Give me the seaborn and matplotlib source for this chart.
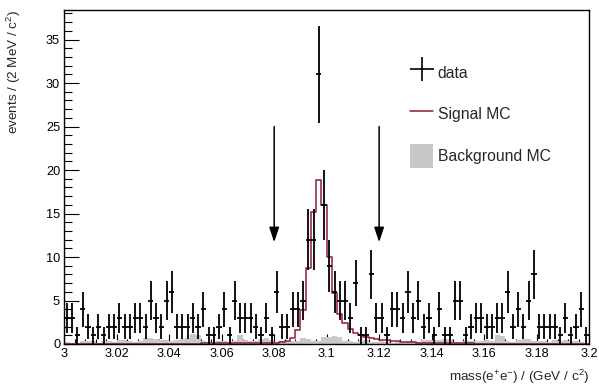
import numpy as np
import pandas as pd
import matplotlib
matplotlib.use("Agg")
import matplotlib.pyplot as plt
import seaborn as sns
from matplotlib.lines import Line2D
from matplotlib.patches import Patch
from matplotlib.ticker import MultipleLocator, FuncFormatter

# ---------------- data (2 MeV bins from 3.0 to 3.2 GeV) ----------------
mass_low = 3.0
mass_high = 3.2
n_bins = 100

data_counts = [3, 3, 1, 4, 2, 1, 2, 1, 2, 2,
               3, 2, 2, 3, 3, 2, 5, 3, 2, 5,
               6, 2, 2, 2, 3, 2, 4, 1, 1, 2,
               4, 1, 5, 3, 3, 3, 2, 1, 3, 1,
               6, 2, 2, 4, 4, 5, 12, 12, 31, 16,
               9, 6, 5, 5, 3, 7, 1, 1, 8, 3,
               3, 1, 4, 4, 3, 6, 3, 5, 2, 3,
               1, 4, 1, 1, 5, 5, 1, 2, 3, 3,
               2, 2, 3, 3, 6, 2, 4, 2, 5, 8,
               2, 2, 2, 2, 1, 3, 1, 2, 4, 1]

signal_mc = [0.02, 0.02, 0.02, 0.02, 0.02, 0.02, 0.02, 0.03, 0.03, 0.03,
             0.03, 0.03, 0.03, 0.03, 0.03, 0.04, 0.04, 0.04, 0.04, 0.04,
             0.04, 0.05, 0.05, 0.05, 0.05, 0.05, 0.06, 0.06, 0.06, 0.07,
             0.07, 0.07, 0.08, 0.08, 0.09, 0.09, 0.10, 0.10, 0.11, 0.12,
             0.15, 0.23, 0.35, 0.65, 1.6, 3.9, 8.7, 15.2, 18.8, 16.0,
             10.0, 5.9, 3.5, 2.4, 1.7, 1.3, 1.05, 0.85, 0.7, 0.6,
             0.5, 0.42, 0.36, 0.31, 0.27, 0.23, 0.2, 0.17, 0.15, 0.13,
             0.12, 0.10, 0.09, 0.08, 0.07, 0.07, 0.06, 0.06, 0.05, 0.05,
             0.05, 0.04, 0.04, 0.04, 0.04, 0.03, 0.03, 0.03, 0.03, 0.03,
             0.03, 0.03, 0.02, 0.02, 0.02, 0.02, 0.02, 0.02, 0.02, 0.02]

background_mc = [0.2, 0.1, 0.15, 0.35, 0.4, 0.3, 0.1, 0.3, 0.35, 0.25,
                 0.45, 0.5, 0.4, 0.2, 0.3, 0.65, 0.7, 0.6, 0.45, 0.5,
                 0.4, 0.5, 0.6, 0.65, 1.2, 1.0, 0.3, 0.2, 0.25, 0.35,
                 0.3, 0.2, 0.4, 1.0, 0.5, 0.3, 0.4, 0.6, 0.65, 0.5,
                 0.2, 0.3, 0.25, 0.4, 0.3, 0.65, 0.6, 0.3, 0.3, 0.85,
                 0.8, 0.9, 0.8, 0.35, 0.3, 0.2, 0.3, 0.45, 0.2, 0.25,
                 0.3, 0.2, 0.15, 0.25, 0.2, 0.3, 0.2, 0.25, 0.45, 0.5,
                 0.5, 0.45, 0.6, 0.55, 0.2, 0.15, 0.35, 0.35, 0.3, 0.4,
                 0.45, 0.4, 1.0, 0.9, 0.3, 0.2, 0.5, 0.55, 0.6, 0.35,
                 0.3, 0.35, 0.2, 0.45, 0.4, 0.45, 0.4, 0.3, 0.2, 0.15]

cut_positions = [3.08, 3.12]
arrow_top = 25.0
arrow_tip = 11.7

legend_labels = ["data", "Signal MC", "Background MC"]
x_title = r"mass(e$^{+}$e$^{-}$) / (GeV / c$^{2}$)"
y_title = r"events / (2 MeV / c$^{2}$)"

# ---------------- figure ----------------
sns.set_style("white")
plt.rcParams["font.family"] = ["Liberation Sans", "DejaVu Sans"]
plt.rcParams["mathtext.fontset"] = "custom"
plt.rcParams["mathtext.rm"] = "Liberation Sans"
plt.rcParams["mathtext.it"] = "Liberation Sans:italic"
plt.rcParams["mathtext.bf"] = "Liberation Sans:bold"

W, H = 599, 387
fig = plt.figure(figsize=(W / 100, H / 100), dpi=100)
ax_left, ax_right, ax_top, ax_bottom = 64.3, 589.0, 10.0, 344.0
ax = fig.add_axes([ax_left / W, 1 - ax_bottom / H,
                   (ax_right - ax_left) / W, (ax_bottom - ax_top) / H])

edges = np.linspace(mass_low, mass_high, n_bins + 1)
centers = 0.5 * (edges[:-1] + edges[1:])
df = pd.DataFrame({"mass": centers, "data": data_counts,
                   "signal": signal_mc, "background": background_mc})

grey = "#c8c8c8"
red = "#921c30"
bin_list = [float(e) for e in edges]

sns.histplot(data=df, x="mass", weights="background", bins=bin_list,
             element="step", fill=True, color=grey, alpha=1.0,
             linewidth=0, ax=ax)
sns.histplot(data=df, x="mass", weights="signal", bins=bin_list,
             element="step", fill=False, color=red, linewidth=1.1, ax=ax)

counts = df["data"].to_numpy(dtype=float)
ax.errorbar(df["mass"], counts, yerr=np.sqrt(counts),
            xerr=(edges[1] - edges[0]) / 2, fmt="none", ecolor="black",
            elinewidth=1.3, capsize=0, zorder=5)

for xc in cut_positions:
    ax.annotate("", xy=(xc, arrow_tip), xytext=(xc, arrow_top),
                arrowprops=dict(arrowstyle="-|>,head_length=0.9,head_width=0.3",
                                mutation_scale=10, color="black", lw=1.1,
                                shrinkA=0, shrinkB=0), zorder=6)

ax.set_xlim(mass_low, mass_high)
ax.set_ylim(0, 38.4)

ax.xaxis.set_major_locator(MultipleLocator(0.02))
ax.xaxis.set_minor_locator(MultipleLocator(0.004))
ax.yaxis.set_major_locator(MultipleLocator(5))
ax.yaxis.set_minor_locator(MultipleLocator(1))
ax.xaxis.set_major_formatter(FuncFormatter(lambda v, p: f"{v:g}"))
ax.yaxis.set_major_formatter(FuncFormatter(lambda v, p: f"{v:g}"))

ax.tick_params(axis="both", which="both", direction="in", top=False,
               right=False, bottom=True, left=True, colors="black",
               labelsize=9.2)
ax.tick_params(axis="x", which="major", length=7.2, width=0.8, pad=3)
ax.tick_params(axis="x", which="minor", length=3.6, width=0.8)
ax.tick_params(axis="y", which="major", length=11, width=0.8, pad=3)
ax.tick_params(axis="y", which="minor", length=5.5, width=0.8)

for s in ax.spines.values():
    s.set_visible(True)
    s.set_color("black")
    s.set_linewidth(1.0)

ax.set_xlabel(x_title, fontsize=9.7, ha="right")
ax.xaxis.set_label_coords(1.0, -0.072)
ax.xaxis.label.set_va("top")
ax.set_ylabel(y_title, fontsize=9.7, loc="top")
ax.yaxis.set_label_coords(-0.079, 1.0)

handles = [
    Line2D([], [], marker="+", markersize=17.5, markeredgewidth=1.2,
           linestyle="none", color="black"),
    Line2D([], [], color=red, linewidth=1.1),
    Patch(facecolor=grey, edgecolor="none"),
]
ax.legend(handles, legend_labels, loc="upper left",
          bbox_to_anchor=(410 / W, 1 - 61 / H), bbox_transform=fig.transFigure,
          frameon=False, fontsize=11.3, handlelength=1.47, handleheight=1.9,
          labelspacing=1.18, handletextpad=0.3, borderpad=0,
          borderaxespad=0)

fig.savefig("out.png", dpi=100)
